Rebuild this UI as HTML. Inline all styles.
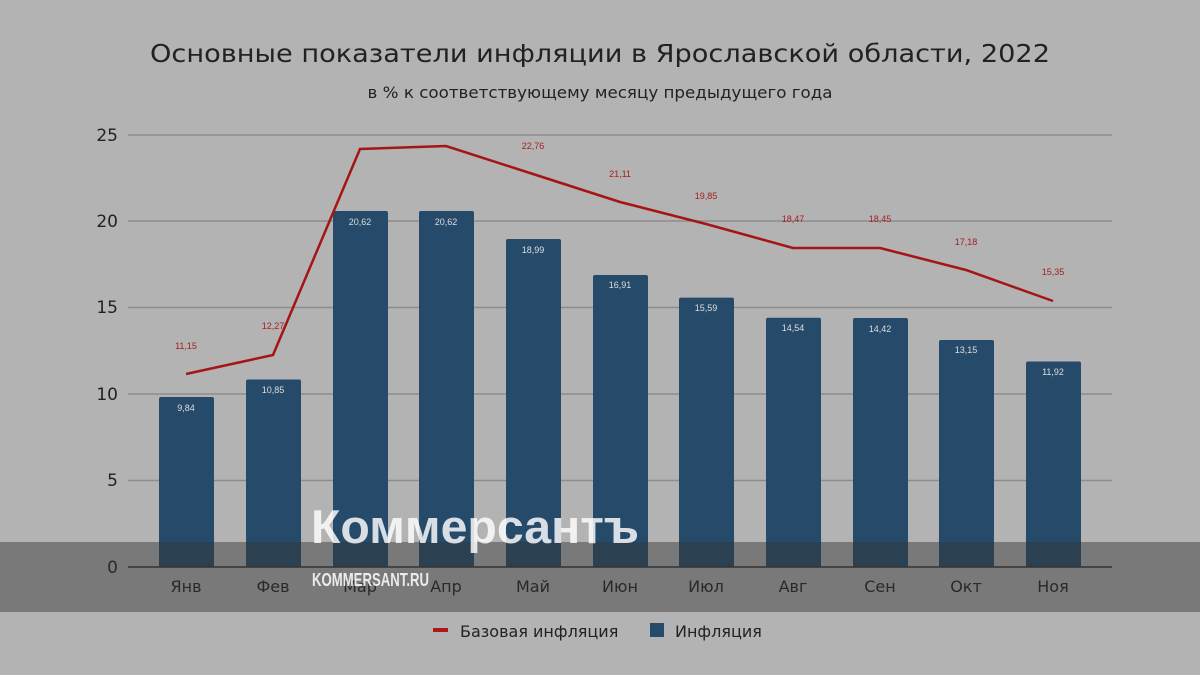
<!DOCTYPE html><html><head><meta charset="utf-8"><style>body{margin:0;background:#b3b3b3}svg{display:block}</style></head><body>
<svg width="1200" height="675" xmlns="http://www.w3.org/2000/svg" font-family="'Liberation Sans', 'DejaVu Sans', sans-serif">
<rect width="1200" height="675" fill="#b3b3b3"/>
<text x="600" y="62" text-anchor="middle" font-size="25" fill="#222" font-family="'DejaVu Sans',sans-serif" textLength="900" lengthAdjust="spacingAndGlyphs">Основные показатели инфляции в Ярославской области, 2022</text>
<text x="600" y="98" text-anchor="middle" font-size="16" fill="#222" font-family="'DejaVu Sans',sans-serif" textLength="465" lengthAdjust="spacingAndGlyphs">в % к соответствующему месяцу предыдущего года</text>
<g stroke="#8c8c8c" stroke-width="1.5">
<line x1="128" x2="1112" y1="135" y2="135"/><line x1="128" x2="1112" y1="221" y2="221"/><line x1="128" x2="1112" y1="307.5" y2="307.5"/><line x1="128" x2="1112" y1="394" y2="394"/><line x1="128" x2="1112" y1="480.5" y2="480.5"/>
</g>
<g font-size="17" fill="#222" text-anchor="end" font-family="'DejaVu Sans',sans-serif">
<text x="118" y="141">25</text><text x="118" y="227">20</text><text x="118" y="313">15</text><text x="118" y="400">10</text><text x="118" y="486">5</text><text x="118" y="573">0</text>
</g>
<g fill="#264b6a">
<rect x="159" y="397" width="55" height="170" rx="2"/>
<rect x="246" y="379.5" width="55" height="187.5" rx="2"/>
<rect x="333" y="211" width="55" height="356" rx="2"/>
<rect x="419" y="211" width="55" height="356" rx="2"/>
<rect x="506" y="239" width="55" height="328" rx="2"/>
<rect x="593" y="275" width="55" height="292" rx="2"/>
<rect x="679" y="297.6" width="55" height="269.4" rx="2"/>
<rect x="766" y="317.7" width="55" height="249.3" rx="2"/>
<rect x="853" y="318" width="55" height="249" rx="2"/>
<rect x="939" y="340" width="55" height="227" rx="2"/>
<rect x="1026" y="361.5" width="55" height="205.5" rx="2"/>
</g>
<g font-size="9" fill="#ddd" text-anchor="middle">
<text x="186" y="411">9,84</text><text x="273" y="393">10,85</text><text x="360" y="225">20,62</text><text x="446" y="225">20,62</text><text x="533" y="253">18,99</text><text x="620" y="288">16,91</text><text x="706" y="311">15,59</text><text x="793" y="331">14,54</text><text x="880" y="332">14,42</text><text x="966" y="353">13,15</text><text x="1053" y="375">11,92</text>
</g>
<polyline fill="none" stroke="#a51515" stroke-width="2.5" points="186,374 273,355 360,149 446,146 533,174 620,202 706,224 793,248 880,248 966,270 1053,301"/>
<g font-size="9" fill="#a52020" text-anchor="middle">
<text x="186" y="349">11,15</text><text x="273" y="329">12,27</text><text x="533" y="149">22,76</text><text x="620" y="177">21,11</text><text x="706" y="199">19,85</text><text x="793" y="222">18,47</text><text x="880" y="222">18,45</text><text x="966" y="245">17,18</text><text x="1053" y="275">15,35</text>
</g>
<line x1="128" x2="1112" y1="567" y2="567" stroke="#333" stroke-width="1.5"/>
<g font-size="16" fill="#222" text-anchor="middle" font-family="'DejaVu Sans',sans-serif">
<text x="186" y="592">Янв</text><text x="273" y="592">Фев</text><text x="360" y="592">Мар</text><text x="446" y="592">Апр</text><text x="533" y="592">Май</text><text x="620" y="592">Июн</text><text x="706" y="592">Июл</text><text x="793" y="592">Авг</text><text x="880" y="592">Сен</text><text x="966" y="592">Окт</text><text x="1053" y="592">Ноя</text>
</g>
<rect x="0" y="542" width="1200" height="70" fill="#333" opacity="0.45"/>
<text x="311" y="543" font-size="47" font-weight="bold" fill="#fff" opacity="0.82" textLength="328" lengthAdjust="spacingAndGlyphs">Коммерсантъ</text>
<text x="312" y="586" font-size="18" font-weight="bold" fill="#fff" opacity="0.85" textLength="117" lengthAdjust="spacingAndGlyphs">KOMMERSANT.RU</text>
<rect x="433" y="628" width="15" height="4" fill="#b01818"/>
<text x="460" y="637" font-size="16" fill="#222" font-family="'DejaVu Sans',sans-serif">Базовая инфляция</text>
<rect x="650" y="623" width="14" height="14" fill="#264b6a"/>
<text x="675" y="637" font-size="16" fill="#222" font-family="'DejaVu Sans',sans-serif">Инфляция</text>
</svg></body></html>
